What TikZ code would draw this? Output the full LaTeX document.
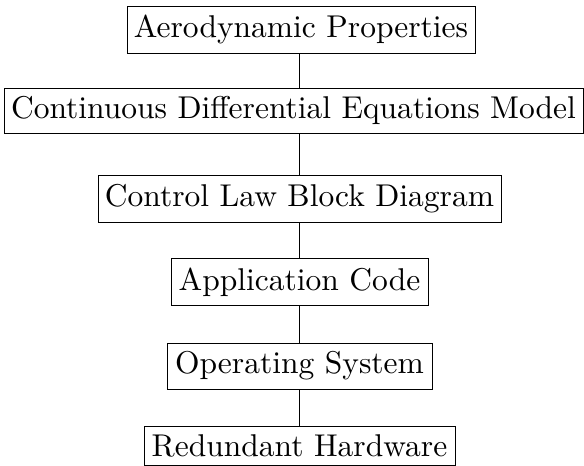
\documentclass[tikz,border=0pt]{standalone}
\usepackage{graphicx}
\begin{document}
\begin{tikzpicture}[x=1pt,y=-1pt,
  blk/.style={draw, line width=1pt, inner sep=0pt, anchor=center},
  conn/.style={line width=0.7pt}]
\useasboundingbox (0,0) rectangle (584,466);
\newcommand{\bt}[1]{\scalebox{3.15}{#1}}
\node[blk, minimum width=348, minimum height=47] (a) at (301,29.5) {\bt{Aerodynamic Properties}};
\node[blk, minimum width=579, minimum height=45] (b) at (293.5,110.5) {\bt{Continuous Differential Equations Model}};
\node[blk, minimum width=403, minimum height=47] (c) at (299.5,198.8) {\bt{Control Law Block Diagram}};
\node[blk, minimum width=257, minimum height=47] (d) at (299.5,282) {\bt{Application Code}};
\node[blk, minimum width=265, minimum height=46] (e) at (299.5,366) {\bt{Operating System}};
\node[blk, minimum width=311, minimum height=39] (f) at (299.5,446) {\bt{Redundant Hardware}};
\draw[conn] (c.north |- a.south) -- (c.north |- b.north);
\draw[conn] (c.north |- b.south) -- (c.north);
\draw[conn] (c.south) -- (d.north);
\draw[conn] (d.south) -- (e.north);
\draw[conn] (e.south) -- (f.north);
\end{tikzpicture}
\end{document}
